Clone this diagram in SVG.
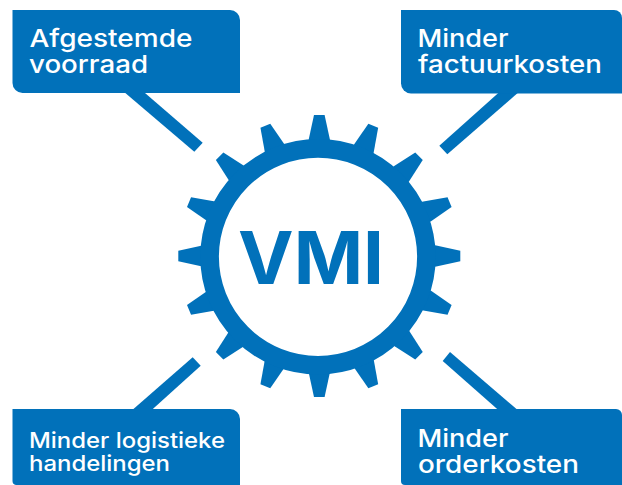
<svg xmlns="http://www.w3.org/2000/svg" width="622" height="485" viewBox="0 0 622 485">
<style>
.b{fill:#0171ba}
.t{fill:#fff;font-family:Inter,"Liberation Sans",sans-serif;font-weight:500;font-size:24.5px}
.s{font-size:21px}
.v{fill:#0171ba;font-family:Inter,"Liberation Sans",sans-serif;font-weight:700;font-size:73px}
</style>
<defs>
<polygon id="tooth" class="b" points="-12,-108 -10.5,-117 -5.3,-141 5.3,-141 10.5,-117 12,-108"/>
</defs>
<rect width="622" height="485" fill="#fff"/>
<g id="connectors" class="b">
<polygon points="125.3,93 145,93 202.7,142.7 194.3,151.7"/>
<polygon points="498.3,93 517.7,93 447.3,154.3 439.3,145.7"/>
<polygon points="132.3,410 151.7,410 200.7,365.7 192.7,357.3"/>
<polygon points="498.3,410 517.7,410 450,352 442.7,361"/>
</g>
<g id="node-afgestemde">
<path class="b" d="M12.5,10H230a10,10 0 0 1 10,10V93H22.5a10,10 0 0 1 -10,-10Z"/>
<text class="t" x="29.500" y="46.7" textLength="163" lengthAdjust="spacingAndGlyphs">Afgestemde</text>
<text class="t" x="29" y="73.3" textLength="119" lengthAdjust="spacingAndGlyphs">voorraad</text>
</g>
<g id="node-factuurkosten">
<path class="b" d="M401,10H614a8,8 0 0 1 8,8V93.500H411a10,10 0 0 1 -10,-10Z"/>
<text class="t" x="417.500" y="46.700" textLength="91" lengthAdjust="spacingAndGlyphs">Minder</text>
<text class="t" x="418" y="73.300" textLength="184" lengthAdjust="spacingAndGlyphs">factuurkosten</text>
</g>
<g id="node-logistiek">
<path class="b" d="M12.500,409H230a10,10 0 0 1 10,10V485H16a4,4 0 0 1 -3.500,-4Z"/>
<text class="t s" x="29" y="447.700" textLength="196" lengthAdjust="spacingAndGlyphs">Minder logistieke</text>
<text class="t s" x="29" y="470.700" textLength="141" lengthAdjust="spacingAndGlyphs">handelingen</text>
</g>
<g id="node-orderkosten">
<path class="b" d="M401,409H616a6,6 0 0 1 6,6V485H405a4,4 0 0 1 -4,-4Z"/>
<text class="t" x="417.500" y="446.700" textLength="91" lengthAdjust="spacingAndGlyphs">Minder</text>
<text class="t" x="418" y="473.300" textLength="161" lengthAdjust="spacingAndGlyphs">orderkosten</text>
</g>
<g id="node-vmi">
<g transform="translate(319.300,256)">
<use href="#tooth"/>
<use href="#tooth" transform="rotate(22.500)"/>
<use href="#tooth" transform="rotate(45)"/>
<use href="#tooth" transform="rotate(67.500)"/>
<use href="#tooth" transform="rotate(90)"/>
<use href="#tooth" transform="rotate(112.500)"/>
<use href="#tooth" transform="rotate(135)"/>
<use href="#tooth" transform="rotate(157.500)"/>
<use href="#tooth" transform="rotate(180)"/>
<use href="#tooth" transform="rotate(202.500)"/>
<use href="#tooth" transform="rotate(225)"/>
<use href="#tooth" transform="rotate(247.500)"/>
<use href="#tooth" transform="rotate(270)"/>
<use href="#tooth" transform="rotate(292.500)"/>
<use href="#tooth" transform="rotate(315)"/>
<use href="#tooth" transform="rotate(337.500)"/>
</g>
<circle cx="318" cy="256.800" r="108.400" fill="#fff" stroke="#0171ba" stroke-width="18.600"/>
<text class="v" x="238" y="284.300" textLength="146" lengthAdjust="spacingAndGlyphs">VMI</text>
</g>
</svg>
